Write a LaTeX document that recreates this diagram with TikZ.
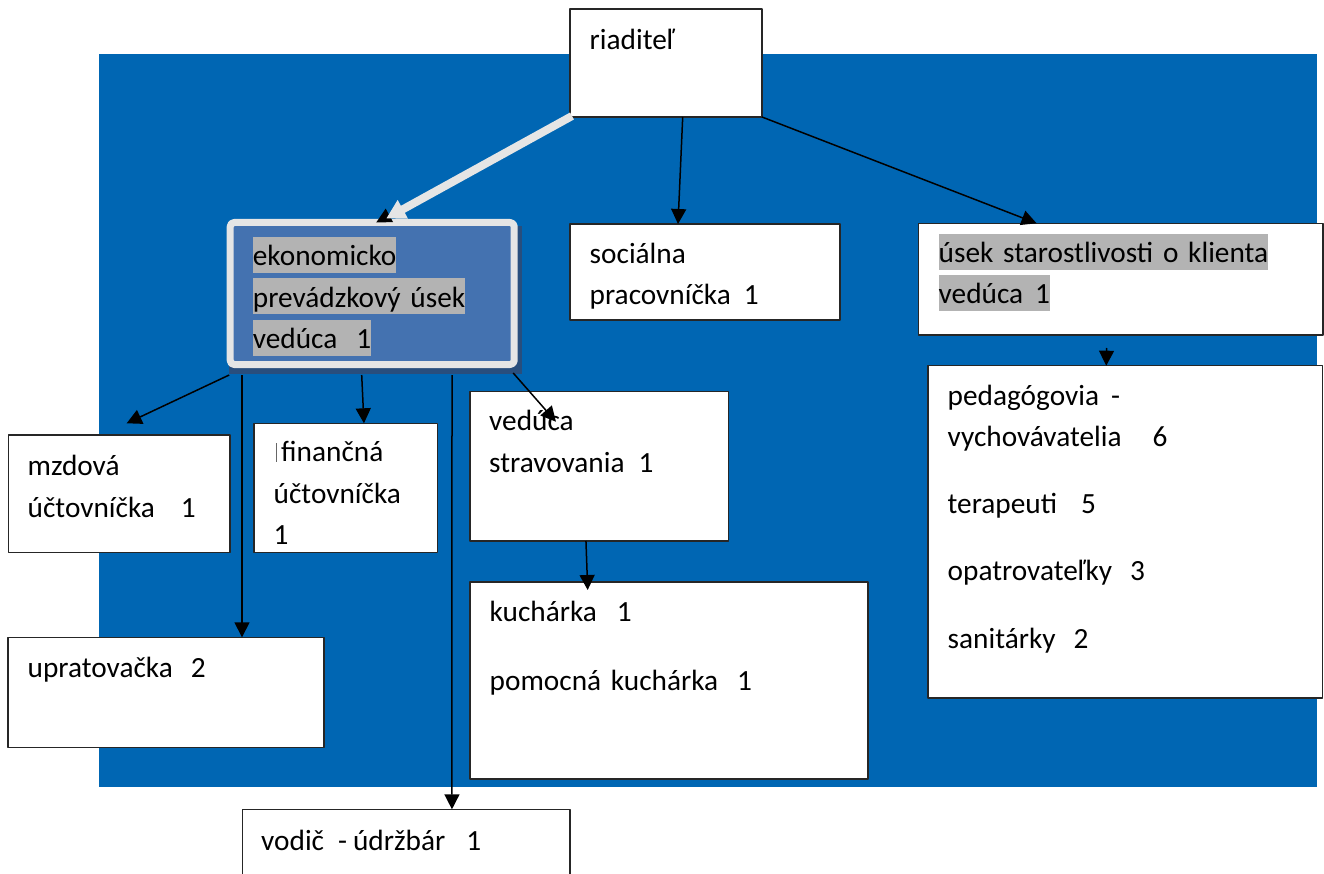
\documentclass[tikz,border=0pt]{standalone}
\usepackage{fontspec}
\setmainfont{Carlito}
\usetikzlibrary{arrows.meta}
\definecolor{bgblue}{RGB}{0,102,179}
\definecolor{ekfill}{RGB}{68,114,176}
\definecolor{ekrim}{RGB}{229,229,229}
\definecolor{hlgray}{RGB}{179,179,179}
\definecolor{shadowblue}{RGB}{40,78,125}
\newcommand{\hl}[1]{{\setlength{\fboxsep}{0pt}\colorbox{hlgray}{\rule[-7pt]{0pt}{36pt}#1}}}
\begin{document}
\begin{tikzpicture}[x=1pt, y=-1pt, font=\fontsize{29.3}{41.3}\selectfont, line join=round,
	box/.style={draw=black!85, line width=1.5pt, fill=white, anchor=north west, inner sep=0pt, outer sep=0pt},
	ekbox/.style={draw=ekrim, line width=7pt, fill=ekfill, rounded corners=4pt, inner sep=0pt, outer sep=0pt},
	txt/.style={anchor=base west, inner sep=0pt, align=left, text width=380pt},
	arr/.style={line width=1.5pt, -{Triangle[width=15pt,length=15pt]}}]
	\clip (0,0) rectangle (1324,874);
	\fill[white] (0,0) rectangle (1324,874);
	\fill[bgblue] (99,54) rectangle (1317,787);
	% boxes
	\node[box, minimum width=192pt, minimum height=108pt] (riad) at (570,9) {};
	\fill[shadowblue] (229,226) rectangle (521.5,374);
	\node[ekbox, minimum width=284pt, minimum height=142pt] (ekon) at (372.2,293.5) {};
	\node[box, minimum width=270pt, minimum height=96pt] (soc) at (570,224) {};
	\node[box, minimum width=404.5pt, minimum height=111.7pt] (usek) at (918.3,223.3) {};
	\node[box, minimum width=394.5pt, minimum height=332.3pt] (ped) at (928,365.7) {};
	\node[box, minimum width=221.7pt, minimum height=117.7pt] (mzda) at (8.3,435) {};
	\node[box, minimum width=183.7pt, minimum height=129.4pt] (finan) at (254,423.3) {};
	\node[box, minimum width=258.3pt, minimum height=149.3pt] (strav) at (470,391.7) {};
	\node[box, minimum width=398pt, minimum height=197pt] (kuch) at (470,582) {};
	\node[box, minimum width=316pt, minimum height=110pt] (uprat) at (8,637.3) {};
	\node[box, minimum width=327.7pt, minimum height=100pt] (vodic) at (242.3,809.3) {};
	% texts
	\node[txt] (riadt) at (589.5,50) {riaditeľ};
	\node[txt] (ekont) at (252.7,266) {\hl{ekonomicko}\\\hl{prevádzkový úsek}\\\hl{vedúca\hspace{19pt}1}};
	\node[txt] (soct) at (589.5,263.3) {sociálna\\pracovníčka\hspace{13pt}1};
	\node[txt] (usekt) at (938.5,262.7) {\hl{úsek starostlivosti o klienta}\\\hl{vedúca\hspace{12pt}1}};
	\node[txt] (pedt) at (947.5,405) {pedagógovia\hspace{12pt}-\\vychovávatelia\hspace{31pt}6\\[26pt]terapeuti\hspace{24pt}5\\[26pt]opatrovateľky\hspace{18pt}3\\[26pt]sanitárky\hspace{18pt}2};
	\node[txt] (mzdat) at (27.5,475.7) {mzdová\\účtovníčka\hspace{26pt}1};
	\node[txt] (finant) at (273.5,461.7) {\hspace{2.5pt}{\color{black!60}\rule{1pt}{18.7pt}}\hspace{4pt}finančná\\účtovníčka\\1};
	\node[txt] (stravt) at (489,430.7) {vedúca\\stravovania\hspace{14pt}1};
	\node[txt] (kucht) at (489.5,621.7) {kuchárka\hspace{20pt}1\\[27pt]pomocná kuchárka\hspace{19pt}1};
	\node[txt] (upratt) at (27.5,677) {upratovačka\hspace{18pt}2};
	\node[txt] (vodict) at (261,850) {vodič\hspace{14pt}-\hspace{6pt}údržbár\hspace{21pt}1};
	% connectors
	\draw[arr] (riad.south west) -- ([xshift=4pt]ekon.north);
	\draw[line width=8pt, draw=ekrim, -{Triangle[width=20pt,length=19pt]}] ([xshift=2pt,yshift=1pt]riad.south west) -- ([xshift=14pt,yshift=4pt]ekon.north);
	\draw[arr] ([xshift=16.7pt]riad.south) -- ([xshift=-27pt]soc.north);
	\draw[arr] (riad.south east) -- ([xshift=-84pt]usek.north);
	\draw[arr] ([xshift=-14pt,yshift=-13pt]usek.south) -- ([xshift=-19pt]ped.north);
	\draw[arr] ([xshift=-1pt,yshift=-10.5pt]ekon.south west) -- ([xshift=7.5pt,yshift=11.7pt]mzda.north);
	\draw[arr] ([xshift=11.8pt,yshift=-10.5pt]ekon.south west) -- ([xshift=76pt]uprat.north);
	\draw[arr] ([xshift=-10.5pt,yshift=-10.5pt]ekon.south) -- ([xshift=18.1pt]finan.north);
	\draw[arr] ([xshift=79.8pt,yshift=-10.5pt]ekon.south) -- ([xshift=45.8pt]vodic.north);
	\draw[arr] ([xshift=-1pt,yshift=-8.5pt]ekon.south east) -- ([xshift=-43.2pt,yshift=-30pt]strav.north);
	\draw[arr] ([xshift=-13.2pt]strav.south) -- ([xshift=-81.3pt,yshift=-8pt]kuch.north);
\end{tikzpicture}
\end{document}
